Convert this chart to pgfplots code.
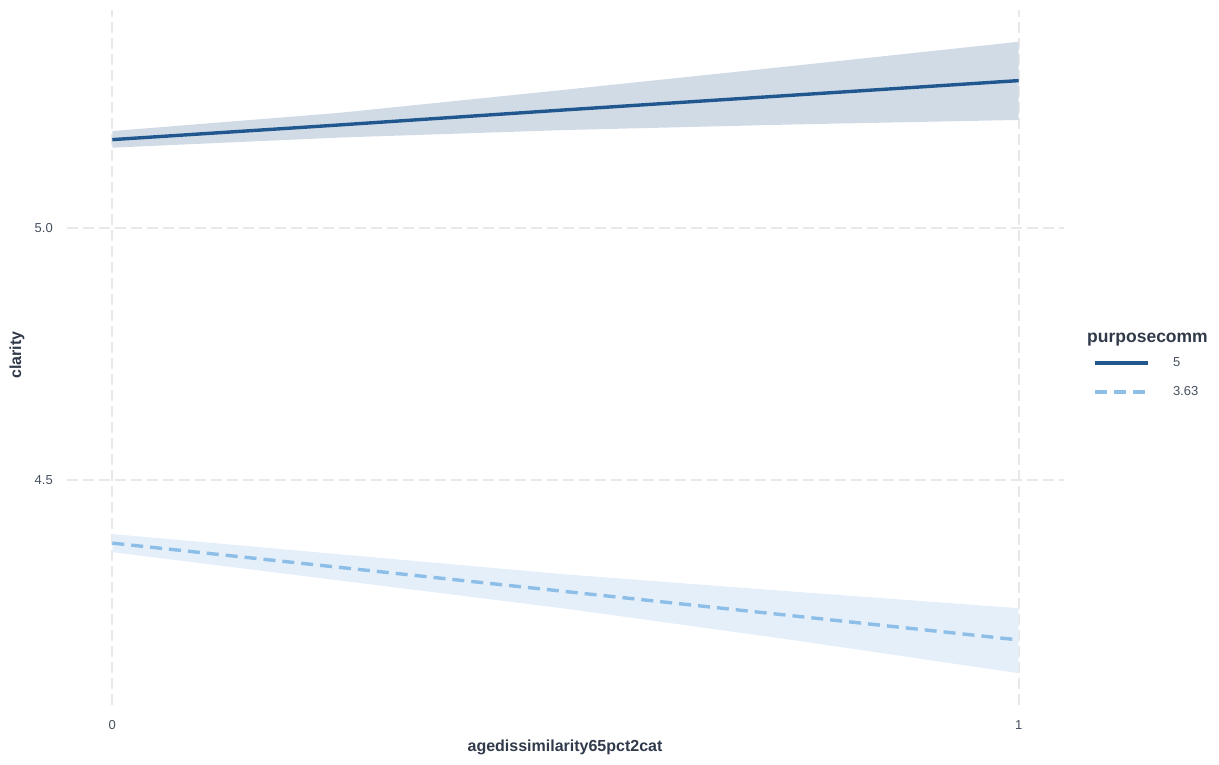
\documentclass[border=0pt]{standalone}
\usepackage{fontspec}
\setmainfont{Liberation Sans}
\usepackage{pgfplots}
\usepackage{pgfplotstable}
\pgfplotsset{compat=1.18}

\definecolor{hiline}{RGB}{33,87,143}
\definecolor{loline}{RGB}{140,190,232}
\definecolor{hiband}{RGB}{209,219,230}
\definecolor{loband}{RGB}{229,239,250}
\definecolor{gridc}{RGB}{232,232,232}
\definecolor{titlec}{RGB}{48,58,74}
\definecolor{tickc}{RGB}{70,80,95}

% fitted clarity, purposecomm = 5
\pgfplotstableread{
x     y
0.00  5.175
0.25  5.204
0.50  5.234
0.75  5.263
1.00  5.292
}\hifit
% its confidence band: upper edge left to right, lower edge right to left
\pgfplotstableread{
x     y
0.00  5.192
0.25  5.228
0.50  5.274
0.75  5.321
1.00  5.369
1.00  5.214
0.75  5.205
0.50  5.194
0.25  5.179
0.00  5.159
}\hiband
% fitted clarity, purposecomm = 3.63
\pgfplotstableread{
x     y
0.00  4.375
0.25  4.327
0.50  4.279
0.75  4.231
1.00  4.183
}\lofit
\pgfplotstableread{
x     y
0.00  4.393
0.25  4.353
0.50  4.313
0.75  4.279
1.00  4.246
1.00  4.117
0.75  4.183
0.50  4.245
0.25  4.301
0.00  4.357
}\loband

\begin{document}
\begin{tikzpicture}
\useasboundingbox (0bp,0bp) rectangle (1219bp,765bp);
\begin{axis}[
  at={(67bp,60bp)}, anchor=south west,
  scale only axis, width=997bp, height=695bp,
  xmin=-0.05, xmax=1.05, ymin=4.054, ymax=5.432,
  axis line style={draw=none},
  major tick length=0pt,
  xtick={0,1}, xticklabels={0,1},
  ytick={4.5,5.0}, yticklabels={4.5,5.0},
  ticklabel style={font=\fontsize{13bp}{15bp}\selectfont, text=tickc, inner sep=0pt},
  xticklabel style={anchor=north, yshift=-15bp},
  yticklabel style={anchor=east, xshift=-14bp},
  grid=major,
  grid style={gridc, line width=1.8bp, dash pattern=on 11bp off 5bp},
  legend style={at={(axis description cs:1.0295,0.471)}, anchor=west,
    draw=none, fill=none, inner sep=0pt, row sep=16bp,
    font=\fontsize{13bp}{15bp}\selectfont, text=tickc,
    nodes={inner sep=0pt, text height=10bp, text depth=3bp}},
  legend cell align=left,
  legend image code/.code={\draw[#1] (0bp,0bp) -- (53bp,0bp); \path (76bp,0bp);},
]
  \addplot[fill=hiband, draw=none, forget plot] table {\hiband} -- cycle;
  \addplot[fill=loband, draw=none, forget plot] table {\loband} -- cycle;

  \addplot[hiline, line width=3.4bp] table {\hifit};
  \addlegendentry{5}
  \addplot[loline, line width=3.4bp, dash pattern=on 12bp off 7bp] table {\lofit};
  \addlegendentry{3.63}
\end{axis}
\node[font=\bfseries\fontsize{16bp}{18bp}\selectfont, text=titlec] at (565bp,18bp) {agedissimilarity65pct2cat};
\node[font=\bfseries\fontsize{16bp}{18bp}\selectfont, text=titlec, rotate=90] at (17bp,410bp) {clarity};
\node[font=\bfseries\fontsize{17.5bp}{19bp}\selectfont, text=titlec, anchor=west, inner sep=0pt] at (1087bp,425bp) {purposecomm};
\end{tikzpicture}
\end{document}
